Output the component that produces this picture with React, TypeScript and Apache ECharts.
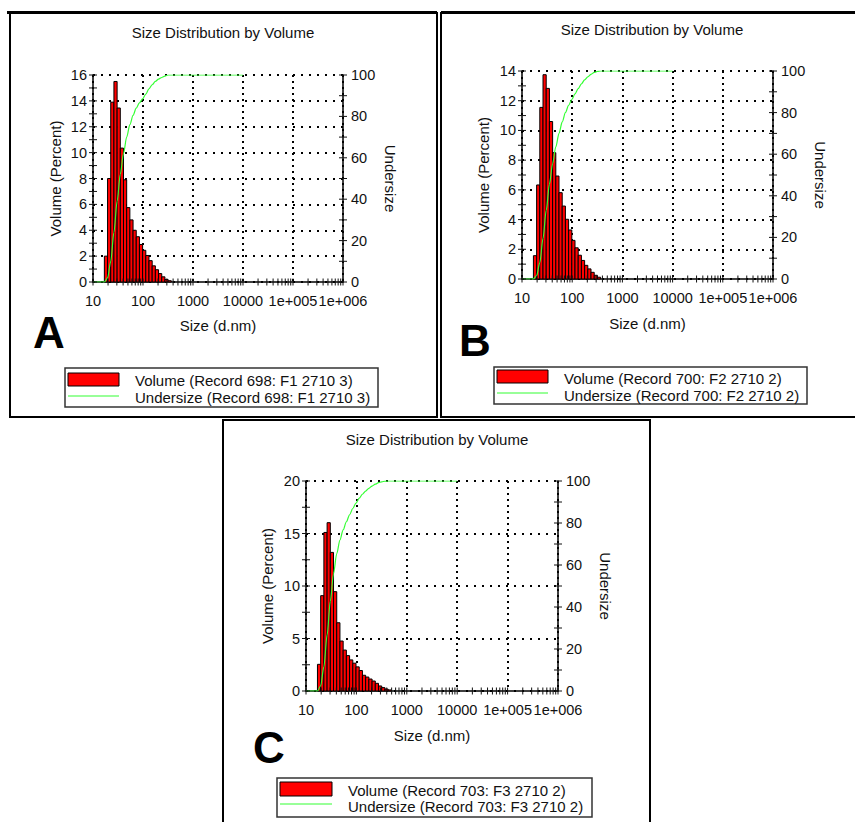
import React, { useEffect, useRef } from "react";
import * as echarts from "echarts";

// Zetasizer size classes (bin centres, d.nm)
const SIZES = [18.17, 21.04, 24.36, 28.21, 32.67, 37.84, 43.82, 50.75, 58.77, 68.06, 78.82, 91.28, 105.7, 122.4, 141.8, 164.2, 190.1, 220.2, 255.0, 295.3, 342.0, 396.1, 458.7];

const VOLUME_A = [2.0, 8.0, 13.9, 15.5, 13.45, 10.35, 7.9, 5.75, 4.8, 4.0, 3.5, 2.9, 2.45, 2.05, 1.65, 1.25, 0.95, 0.65, 0.4, 0.2, 0.1];
const UNDERSIZE_A = [2, 10, 24, 39, 52, 62, 70, 76, 80.5, 84, 86.5, 88.5, 90.8, 93.3, 95.3, 96.9, 98, 98.8, 99.5, 100, 100];

const VOLUME_B = [1.57, 6.33, 11.55, 13.75, 12.83, 10.6, 8.5, 6.93, 5.81, 4.91, 4.02, 3.3, 2.6, 2.1, 1.6, 1.25, 0.92, 0.68, 0.45, 0.25, 0.12];
const UNDERSIZE_B = [1.6, 7.9, 19.5, 33, 45.5, 55.5, 63.5, 70, 75.5, 80, 83.5, 86.3, 89, 91.5, 93.8, 95.7, 97.2, 98.4, 99.3, 99.8, 100];

const VOLUME_C = [2.54, 9.08, 15.1, 16.03, 13.2, 9.46, 6.5, 4.76, 3.9, 3.37, 2.96, 2.65, 2.3, 1.95, 1.5, 1.33, 1.14, 0.95, 0.73, 0.48, 0.32, 0.19, 0.1];
const UNDERSIZE_C = [2.5, 11.6, 26.7, 42.7, 55.9, 65.4, 71.9, 76.7, 80.6, 83.9, 86.9, 89.5, 91.8, 93.7, 95.2, 96.5, 97.6, 98.5, 99.2, 99.6, 99.9, 100, 100];

const X_TICK_LABELS = ["10", "100", "1000", "10000", "1e+005", "1e+006"];
const TITLE = "Size Distribution by Volume";
const X_NAME = "Size (d.nm)";
const Y_NAME = "Volume (Percent)";
const Y2_NAME = "Undersize";
const LEGEND_A = ["Volume (Record 698: F1 2710 3)", "Undersize (Record 698: F1 2710 3)"];
const LEGEND_B = ["Volume (Record 700: F2 2710 2)", "Undersize (Record 700: F2 2710 2)"];
const LEGEND_C = ["Volume (Record 703: F3 2710 2)", "Undersize (Record 703: F3 2710 2)"];

const FONT = "'Liberation Sans', Arial, Helvetica, sans-serif";
const INK = "#111";
const RED = "#ff0000";
const GREEN = "#33ff33";
const HALF = Math.sqrt(1.1581); // half bin width factor (log spacing)

const PANELS = [
  {
    letter: "A", vol: VOLUME_A, under: UNDERSIZE_A, legend: LEGEND_A,
    grid: { left: 93, top: 75, width: 250, height: 207 }, yMax: 16, yInt: 2, yMinor: 1,
    title: [223, 32.3], letterPos: [33, 332.5], nameGaps: [30.5, 39.5, 35.5],
    lg: { box: [65, 368, 313, 39], sw: [68, 373, 51, 13], lineY: 396, tx: 135, ty: [380, 397] },
  },
  {
    letter: "B", vol: VOLUME_B, under: UNDERSIZE_B, legend: LEGEND_B,
    grid: { left: 522, top: 71, width: 251, height: 208 }, yMax: 14, yInt: 2, yMinor: 1,
    title: [652, 29.3], letterPos: [459, 340.5], nameGaps: [31.5, 39.5, 36.5],
    lg: { box: [494, 367, 313, 37], sw: [497, 370, 51, 13], lineY: 393, tx: 564, ty: [378, 395] },
  },
  {
    letter: "C", vol: VOLUME_C, under: UNDERSIZE_C, legend: LEGEND_C,
    grid: { left: 306, top: 481, width: 252, height: 210 }, yMax: 20, yInt: 5, yMinor: 2.5,
    title: [437, 439], letterPos: [253, 747], nameGaps: [31.5, 39.5, 36.5],
    lg: { box: [277, 778, 315, 39], sw: [280, 782, 52, 14], lineY: 804, tx: 348, ty: [790, 806.5] },
  },
];

const X_TICKS: number[] = [];
for (let d = 10; d < 1e6; d *= 10) for (let k = 1; k < 10; k++) X_TICKS.push(d * k);
X_TICKS.push(1e6);

function tickLine(x1: number, y1: number, x2: number, y2: number) {
  return { type: "line", shape: { x1, y1, x2, y2 }, style: { stroke: INK, lineWidth: 1 } };
}

export default function App() {
  const ref = useRef<HTMLDivElement>(null);
  useEffect(() => {
    if (!ref.current) return;
    const chart = echarts.init(ref.current, null, { renderer: "svg" });
    const grid: any[] = [];
    const xAxis: any[] = [];
    const yAxis: any[] = [];
    const series: any[] = [];
    const title: any[] = [];
    const graphic: any[] = [];

    // panel borders
    graphic.push({ type: "rect", shape: { x: 10, y: 13, width: 427, height: 404 }, style: { fill: "none", stroke: "#000", lineWidth: 2 } });
    graphic.push({ type: "line", shape: { x1: 7, y1: 12.5, x2: 437, y2: 12.5 }, style: { stroke: "#000", lineWidth: 3 } });
    graphic.push({ type: "rect", shape: { x: 441, y: 13, width: 430, height: 404 }, style: { fill: "none", stroke: "#000", lineWidth: 2 } });
    graphic.push({ type: "line", shape: { x1: 441, y1: 12.5, x2: 855, y2: 12.5 }, style: { stroke: "#000", lineWidth: 3 } });
    graphic.push({ type: "rect", shape: { x: 223, y: 420, width: 427, height: 420 }, style: { fill: "none", stroke: "#000", lineWidth: 2 } });

    PANELS.forEach((p, i) => {
      grid.push({ ...p.grid, containLabel: false });
      xAxis.push({
        type: "log", logBase: 10, min: 10, max: 1e6, gridIndex: i,
        name: X_NAME, nameLocation: "middle", nameGap: p.nameGaps[2],
        nameTextStyle: { fontFamily: FONT, fontSize: 15, color: INK },
        axisLine: { show: true, lineStyle: { color: "#000", width: 1.5 } },
        axisTick: { show: false },
        axisLabel: {
          fontFamily: FONT, fontSize: 14.5, color: INK, margin: 11, showMinLabel: true, showMaxLabel: true,
          formatter: (v: number) => X_TICK_LABELS[Math.round(Math.log10(v)) - 1] ?? "",
        },
        splitLine: { show: true, lineStyle: { color: "#000", width: 2, type: [2, 4] } },
      });
      yAxis.push({
        type: "value", gridIndex: i, min: 0, max: p.yMax, interval: p.yInt, position: "left",
        name: Y_NAME, nameLocation: "middle", nameGap: p.nameGaps[0], nameRotate: 90,
        nameTextStyle: { fontFamily: FONT, fontSize: 15, color: INK },
        axisLine: { show: true, lineStyle: { color: "#000", width: 1.5 } },
        axisTick: { show: false },
        axisLabel: { fontFamily: FONT, fontSize: 14.5, color: INK, margin: 6 },
        splitLine: { show: true, lineStyle: { color: "#000", width: 2, type: [2, 6] } },
      });
      yAxis.push({
        type: "value", gridIndex: i, min: 0, max: 100, interval: 20, position: "right",
        name: Y2_NAME, nameLocation: "middle", nameGap: p.nameGaps[1], nameRotate: -90,
        nameTextStyle: { fontFamily: FONT, fontSize: 15, color: INK },
        axisLine: { show: true, lineStyle: { color: "#000", width: 1.5 } },
        axisTick: { show: false },
        axisLabel: { fontFamily: FONT, fontSize: 14.5, color: INK, margin: 8 },
        splitLine: { show: false },
      });
      const yl = i * 2, yr = i * 2 + 1;
      const n = p.vol.length;
      series.push({
        type: "custom", name: p.legend[0], xAxisIndex: i, yAxisIndex: yl, clip: false, silent: true,
        data: SIZES.slice(0, n).map((s, k) => [s, p.vol[k]]),
        encode: { x: 0, y: 1 },
        renderItem: (_params: any, api: any) => {
          const c = api.value(0), v = api.value(1);
          const a = api.coord([c / HALF, v]);
          const b = api.coord([c * HALF, 0]);
          return {
            type: "rect",
            shape: { x: a[0], y: a[1], width: b[0] - a[0], height: b[1] - a[1] },
            style: { fill: RED, stroke: "#000", lineWidth: 1 },
          };
        },
      });
      const lineData: number[][] = [[10, 0], [SIZES[0] / HALF, 0]];
      SIZES.slice(0, n).forEach((s, k) => lineData.push([s * HALF, p.under[k]]));
      lineData.push([10000, 100]);
      series.push({
        type: "line", name: p.legend[1], xAxisIndex: i, yAxisIndex: yr, data: lineData,
        showSymbol: false, symbol: "none", smooth: 0.3, smoothMonotone: "x",
        lineStyle: { color: GREEN, width: 1.2 }, z: 4, silent: true,
      });
      // crossing tick marks (x axis + left axis)
      const leftTicks: number[] = [];
      for (let v = 0; v <= p.yMax + 1e-9; v += p.yMinor) leftTicks.push(v);
      series.push({
        type: "custom", xAxisIndex: i, yAxisIndex: yl, clip: false, silent: true, z: 5,
        data: [[10, 0]], encode: { x: 0, y: 1 },
        renderItem: (_params: any, api: any) => {
          const children: any[] = [];
          X_TICKS.forEach((v) => { const q = api.coord([v, 0]); children.push(tickLine(q[0], q[1] - 3.5, q[0], q[1] + 3.5)); });
          leftTicks.forEach((v) => { const q = api.coord([10, v]); children.push(tickLine(q[0] - 4, q[1], q[0] + 4, q[1])); });
          return { type: "group", children };
        },
      });
      const rightTicks: number[] = [];
      for (let v = 0; v <= 100; v += 10) rightTicks.push(v);
      series.push({
        type: "custom", xAxisIndex: i, yAxisIndex: yr, clip: false, silent: true, z: 5,
        data: [[1e6, 0]], encode: { x: 0, y: 1 },
        renderItem: (_params: any, api: any) => {
          const children: any[] = [];
          rightTicks.forEach((v) => { const q = api.coord([1e6, v]); children.push(tickLine(q[0] - 4, q[1], q[0] + 4, q[1])); });
          return { type: "group", children };
        },
      });

      title.push({
        text: TITLE, left: p.title[0], top: p.title[1], textAlign: "center", textVerticalAlign: "middle", padding: 0,
        textStyle: { fontFamily: FONT, fontSize: 15, fontWeight: "normal", color: INK },
      });

      graphic.push({
        type: "text", x: p.letterPos[0], y: p.letterPos[1],
        style: { text: p.letter, fontFamily: FONT, fontSize: 44, fontWeight: "bold", fill: "#000", verticalAlign: "middle", align: "left" },
      });
      const lg = p.lg;
      graphic.push({ type: "rect", shape: { x: lg.box[0], y: lg.box[1], width: lg.box[2], height: lg.box[3] }, style: { fill: "#fff", stroke: "#333", lineWidth: 1.5 } });
      graphic.push({ type: "rect", shape: { x: lg.sw[0], y: lg.sw[1], width: lg.sw[2], height: lg.sw[3] }, style: { fill: RED, stroke: "#000", lineWidth: 1 } });
      graphic.push({ type: "line", shape: { x1: lg.sw[0], y1: lg.lineY, x2: lg.sw[0] + lg.sw[2], y2: lg.lineY }, style: { stroke: GREEN, lineWidth: 1.2 } });
      p.legend.forEach((t, k) => {
        graphic.push({
          type: "text", x: lg.tx, y: lg.ty[k],
          style: { text: t, fontFamily: FONT, fontSize: 15, fill: INK, verticalAlign: "middle", align: "left" },
        });
      });
    });

    chart.setOption({
      animation: false,
      backgroundColor: "#fff",
      title, grid, xAxis, yAxis, series, graphic,
    });
    return () => chart.dispose();
  }, []);
  return <div ref={ref} style={{ position: "absolute", left: 0, top: 0, width: 855, height: 822 }} />;
}
